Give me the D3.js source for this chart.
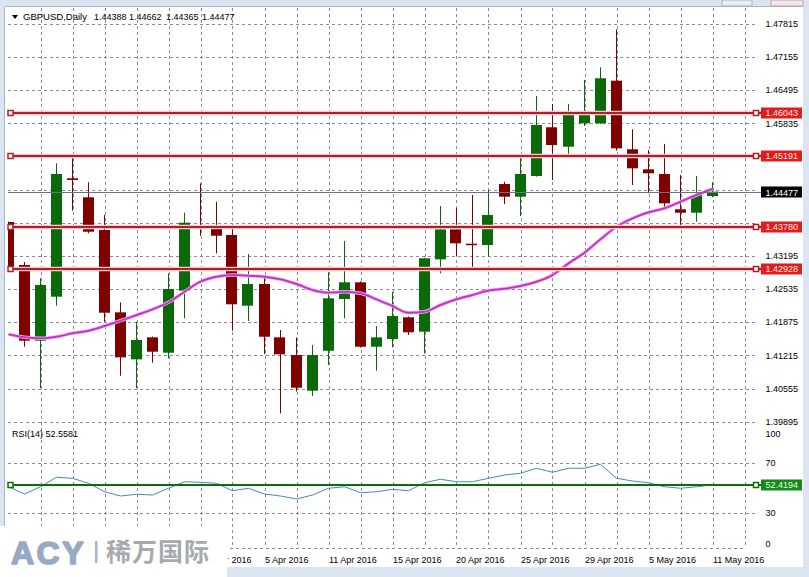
<!DOCTYPE html>
<html><head><meta charset="utf-8">
<script src="https://cdn.jsdelivr.net/npm/d3@7"></script>
<style>
html,body{margin:0;padding:0;background:#fff;}
svg{display:block;font-family:"Liberation Sans",Arial,sans-serif;}
</style></head>
<body>
<svg id="c" width="809" height="577"></svg>
<script>
// ---------- DATA ----------
const dates = ["15 Mar 2016","16 Mar 2016","17 Mar 2016","18 Mar 2016","21 Mar 2016","22 Mar 2016","23 Mar 2016","24 Mar 2016","25 Mar 2016","28 Mar 2016","29 Mar 2016","30 Mar 2016","31 Mar 2016","1 Apr 2016","3 Apr 2016","4 Apr 2016","5 Apr 2016","6 Apr 2016","7 Apr 2016","8 Apr 2016","11 Apr 2016","12 Apr 2016","13 Apr 2016","14 Apr 2016","15 Apr 2016","17 Apr 2016","18 Apr 2016","19 Apr 2016","20 Apr 2016","21 Apr 2016","22 Apr 2016","24 Apr 2016","25 Apr 2016","26 Apr 2016","27 Apr 2016","28 Apr 2016","29 Apr 2016","2 May 2016","3 May 2016","4 May 2016","5 May 2016","6 May 2016","9 May 2016","10 May 2016","11 May 2016"];
const open  = [1.43872,1.43015,1.41508,1.42384,1.44742,1.44364,1.43712,1.42073,1.41137,1.41575,1.41269,1.42503,1.43812,1.43792,1.43613,1.42205,1.42637,1.41575,1.41223,1.40512,1.41308,1.42338,1.42671,1.41388,1.41542,1.41974,1.41687,1.43129,1.43726,1.43440,1.43414,1.44628,1.44376,1.44788,1.45758,1.45371,1.45837,1.45837,1.46686,1.45320,1.44921,1.44828,1.44125,1.44057,1.44388];
const high  = [1.43880,1.43075,1.42750,1.45041,1.45140,1.44662,1.44011,1.42272,1.41886,1.41590,1.42850,1.44057,1.44642,1.44276,1.43746,1.43234,1.42816,1.41721,1.41575,1.41422,1.42870,1.43493,1.42690,1.41800,1.42483,1.41990,1.43160,1.44190,1.44145,1.44409,1.44509,1.44674,1.45186,1.46381,1.46222,1.46222,1.46700,1.46953,1.47709,1.45718,1.45306,1.45425,1.44808,1.44788,1.44662];
const low   = [1.42970,1.41388,1.40560,1.42205,1.44097,1.43647,1.41886,1.40810,1.40560,1.41070,1.41157,1.41954,1.43599,1.43248,1.41707,1.41900,1.41243,1.40062,1.40492,1.40406,1.41024,1.41954,1.41370,1.40910,1.41376,1.41621,1.41257,1.42850,1.43195,1.42969,1.43181,1.44230,1.43991,1.44774,1.44708,1.45226,1.45784,1.45823,1.45292,1.44609,1.44443,1.44125,1.43746,1.43878,1.44365];
const close = [1.42975,1.41508,1.42617,1.44828,1.44708,1.43678,1.42065,1.41177,1.41522,1.41289,1.42537,1.43858,1.43786,1.43599,1.42233,1.42637,1.41587,1.41237,1.40572,1.41223,1.42352,1.42671,1.41388,1.41575,1.41999,1.41675,1.43149,1.43726,1.43447,1.43428,1.44011,1.44376,1.44828,1.45803,1.45405,1.46068,1.46068,1.46734,1.45339,1.44941,1.44842,1.44244,1.44057,1.44409,1.44477];
const ma    = [1.41635,1.41575,1.41555,1.41587,1.41655,1.41707,1.41800,1.41906,1.42019,1.42133,1.42272,1.42483,1.42683,1.42782,1.42816,1.42802,1.42782,1.42730,1.42637,1.42517,1.42464,1.42483,1.42452,1.42332,1.42199,1.42065,1.42085,1.42219,1.42332,1.42418,1.42507,1.42543,1.42597,1.42683,1.42816,1.43049,1.43260,1.43527,1.43778,1.43945,1.44065,1.44145,1.44276,1.44409,1.44529];
const rsi   = [51.0,45.2,51.0,58.6,57.8,53.8,47.0,43.6,45.0,44.4,49.8,55.0,54.6,53.8,47.8,49.8,45.2,43.6,41.2,44.4,49.8,51.0,46.2,47.0,49.0,47.8,54.2,57.0,55.0,55.0,57.8,60.4,61.8,65.8,62.6,65.8,65.8,69.0,57.8,55.6,54.2,51.0,49.8,51.0,52.56];
const priceGrid = [1.47815,1.47155,1.46495,1.45835,1.45175,1.44515,1.43855,1.43195,1.42535,1.41875,1.41215,1.40555,1.39895];
const priceTickShown = [1.47815,1.47155,1.46495,1.45835,1.43195,1.42535,1.41875,1.41215,1.40555,1.39895];
const hLevels = [1.46043,1.45191,1.43780,1.42928];
const lastPrice = 1.44477;
const rsiLevel = 52.4194;
const rsiGrid = [70,30];
const rsiTickLabels = [100,70,30,0];
const symbolName = "GBPUSD,Daily";
const ohlcHeader = ["1.44388","1.44662","1.44365","1.44477"];
const rsiHeader = "RSI(14) 52.5581";

// ---------- LAYOUT ----------
const svg = d3.select("#c");
const W = 809, H = 577;
const plotL = 8, plotR = 745, axisEnd = 757;

const x = d3.scaleLinear().domain([0, dates.length - 1]).range([8.5, 712.5]);
const y = d3.scaleLinear().domain([1.39895, 1.47815]).range([421.7, 24]);
const yr = d3.scaleLinear().domain([0, 100]).range([550.5, 425.5]);

// frame
svg.append("rect").attr("x",0).attr("y",0).attr("width",W).attr("height",H).attr("fill","#dbe5f0");
svg.append("rect").attr("x",5).attr("y",7).attr("width",798).attr("height",560).attr("fill","#ffffff");
svg.append("line").attr("x1",4.5).attr("x2",4.5).attr("y1",7).attr("y2",567).attr("stroke","#a9b6c6");
svg.append("line").attr("x1",5).attr("x2",803).attr("y1",6.5).attr("y2",6.5).attr("stroke","#a9b6c6");
svg.append("rect").attr("x",722).attr("y",0).attr("width",30).attr("height",6).attr("fill","#e8eef5").attr("stroke","#a9b6c6");
svg.append("rect").attr("x",771).attr("y",0).attr("width",32).attr("height",6).attr("fill","#f2e8ea").attr("stroke","#b9a6b0");

const grid = svg.append("g").attr("stroke","#8a8a9c").attr("stroke-dasharray","3,3").attr("stroke-width",1);
for (let k = 2; k <= 46; k += 2) {
  const xx = Math.round(x(k)) + 0.5;
  grid.append("line").attr("x1",xx).attr("x2",xx).attr("y1",8).attr("y2",548);
}
priceGrid.forEach(p => {
  const yy = Math.round(y(p)) + 0.5;
  grid.append("line").attr("x1",plotL).attr("x2",axisEnd).attr("y1",yy).attr("y2",yy);
});
rsiGrid.forEach(v => {
  const yy = Math.round(yr(v)) + 0.5;
  grid.append("line").attr("x1",plotL).attr("x2",axisEnd).attr("y1",yy).attr("y2",yy);
});
grid.append("line").attr("x1",plotL).attr("x2",plotR).attr("y1",548.5).attr("y2",548.5);

const tl = svg.append("g").attr("font-size","9px").attr("fill","#000");
priceTickShown.forEach(p => {
  tl.append("text").attr("x",765.5).attr("y",y(p)).attr("dy","0.35em").text(p.toFixed(5));
});
rsiTickLabels.forEach(v => {
  let yy = yr(v);
  if (v === 100) yy += 8;
  if (v === 0) yy -= 7;
  tl.append("text").attr("x",765.5).attr("y",yy).attr("dy","0.35em").text(v);
});

svg.append("clipPath").attr("id","pc").append("rect").attr("x",plotL).attr("y",8).attr("width",plotR-plotL).attr("height",416);
const main = svg.append("g").attr("clip-path","url(#pc)");

const up = "#0a6a0a", dn = "#800000";
const idx = d3.range(dates.length);
main.selectAll("line.w").data(idx).join("line")
  .attr("x1",k=>Math.round(x(k)-0.5)+0.5).attr("x2",k=>Math.round(x(k)-0.5)+0.5)
  .attr("y1",k=>y(high[k])).attr("y2",k=>y(low[k]))
  .attr("stroke",k=>close[k]>=open[k]?up:dn).attr("stroke-width",1);
main.selectAll("rect.b").data(idx).join("rect")
  .attr("x",k=>Math.round(x(k)-6))
  .attr("width",11)
  .attr("y",k=>y(Math.max(open[k],close[k])))
  .attr("height",k=>Math.max(1.5, Math.abs(y(open[k])-y(close[k]))))
  .attr("fill",k=>close[k]>=open[k]?up:dn);

svg.append("line").attr("x1",plotL).attr("x2",761).attr("y1",Math.round(y(lastPrice))+0.5).attr("y2",Math.round(y(lastPrice))+0.5)
  .attr("stroke","#6f6f8c").attr("stroke-width",1);

const maLine = d3.line().x((d,i)=>x(i)).y(d=>y(d)).curve(d3.curveMonotoneX);
main.append("path").attr("d",maLine(ma)).attr("fill","none").attr("stroke","#f0b8f0").attr("stroke-width",3.5);
main.append("path").attr("d",maLine(ma)).attr("fill","none").attr("stroke","#c634c6").attr("stroke-width",2);

hLevels.forEach(p => {
  const yy = Math.round(y(p));
  svg.append("line").attr("x1",plotL).attr("x2",761).attr("y1",yy).attr("y2",yy).attr("stroke","#f4c8cc").attr("stroke-width",4.5);
  svg.append("line").attr("x1",plotL).attr("x2",761).attr("y1",yy).attr("y2",yy).attr("stroke","#b21d27").attr("stroke-width",2);
  [10.5, 756].forEach(cx => {
    svg.append("rect").attr("x",cx-2.5).attr("y",yy-2.5).attr("width",5).attr("height",5)
      .attr("fill","#fff").attr("stroke","#b21d27").attr("stroke-width",1.5);
  });
  svg.append("rect").attr("x",761).attr("y",yy-5.5).attr("width",41).attr("height",11).attr("fill","#e01c1c");
  svg.append("text").attr("x",765.5).attr("y",yy).attr("dy","0.35em").attr("font-size","9px").attr("fill","#fde6e6").text(p.toFixed(5));
});
{
  const yy = Math.round(y(lastPrice));
  svg.append("rect").attr("x",761).attr("y",yy-5.5).attr("width",41).attr("height",11).attr("fill","#000");
  svg.append("text").attr("x",765.5).attr("y",yy+0.5).attr("dy","0.35em").attr("font-size","9px").attr("fill","#fff").text(lastPrice.toFixed(5));
}

const rsiLine = d3.line().x((d,i)=>x(i)).y(d=>yr(d));
svg.append("path").attr("d",rsiLine(rsi)).attr("fill","none").attr("stroke","#3f8db5").attr("stroke-width",1);
{
  const yy = Math.round(yr(rsiLevel));
  svg.append("line").attr("x1",plotL).attr("x2",761).attr("y1",yy).attr("y2",yy).attr("stroke","#0b6e0b").attr("stroke-width",2);
  [10.5, 756].forEach(cx => {
    svg.append("rect").attr("x",cx-2.5).attr("y",yy-2.5).attr("width",5).attr("height",5)
      .attr("fill","#fff").attr("stroke","#0b6e0b").attr("stroke-width",1.5);
  });
  svg.append("rect").attr("x",761).attr("y",yy-5.5).attr("width",41).attr("height",11).attr("fill","#168a16");
  svg.append("text").attr("x",765.5).attr("y",yy).attr("dy","0.35em").attr("font-size","9px").attr("fill","#e6ffe6").text(rsiLevel.toFixed(4));
}

// headers
svg.append("path").attr("d","M12,15 L18,15 L15,19 Z").attr("fill","#000");
svg.append("text").attr("x",23).attr("y",17).attr("dy","0.35em").attr("font-size","9.6px").attr("fill","#000")
  .attr("textLength",64).attr("lengthAdjust","spacing").text(symbolName);
const hx = [94, 129, 166, 202];
ohlcHeader.forEach((t,i) => {
  svg.append("text").attr("x",hx[i]).attr("y",17).attr("dy","0.35em").attr("font-size","9px").attr("fill","#000").text(t);
});
svg.append("text").attr("x",12).attr("y",434).attr("dy","0.35em").attr("font-size","9px").attr("fill","#000").text(rsiHeader);

// x axis labels (the part under the logo is hidden in the original)
svg.append("clipPath").attr("id","xc").append("rect").attr("x",228).attr("y",550).attr("width",560).attr("height",18);
const xl = svg.append("g").attr("font-size","9px").attr("fill","#000").attr("clip-path","url(#xc)");
for (let k = 12; k < dates.length; k += 4) {
  xl.append("text").attr("x",Math.round(x(k))).attr("y",560).attr("dy","0.35em").text(dates[k]);
}

// logo
svg.append("rect").attr("x",0).attr("y",526).attr("width",227).attr("height",51).attr("fill","#fff");
svg.append("text").attr("x",11).attr("y",552).attr("dy","0.36em").attr("font-size","32px").attr("font-weight","bold")
  .attr("letter-spacing","2.5px").attr("fill","#97a9c5").attr("stroke","#97a9c5").attr("stroke-width",1.6)
  .attr("stroke-linejoin","round").text("ACY");
svg.append("rect").attr("x",95).attr("y",541).attr("width",2.5).attr("height",22).attr("fill","#a9b4c4");
svg.append("text").attr("x",106).attr("y",552).attr("dy","0.36em").attr("font-size","25px").attr("font-weight","bold")
  .attr("font-family","'Noto Sans CJK SC',sans-serif").attr("letter-spacing","1px").attr("fill","#a6a9ae").text("稀万国际");
</script>
</body></html>
